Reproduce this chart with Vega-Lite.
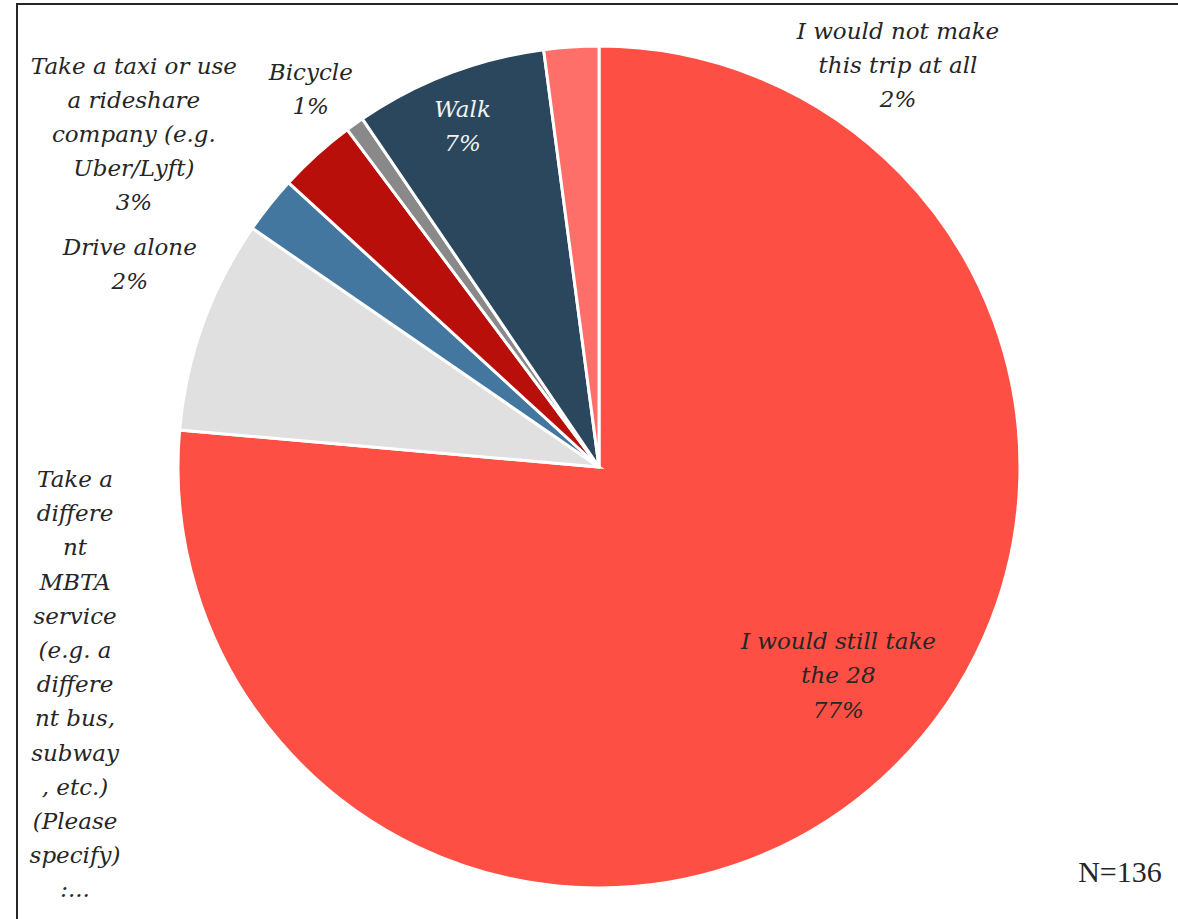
{
  "$schema": "https://vega.github.io/schema/vega-lite/v6.json",
  "width": 1164,
  "height": 926,
  "padding": {"left": 17, "top": 4, "right": 0, "bottom": 0},
  "autosize": {"type": "none"},
  "background": "white",
  "config": {
    "view": {"stroke": null},
    "text": {"font": "DejaVu Serif", "fontSize": 23, "fontStyle": "italic", "lineHeight": 34.2, "lineBreak": "\n", "color": "#262626"}
  },
  "data": {
    "values": [
      {"key": "still", "order": 1, "value": 76.4, "label": "I would still take\nthe 28\n77%"},
      {"key": "mbta", "order": 2, "value": 8.2, "label": "Take a\ndiffere\nnt\nMBTA\nservice\n(e.g. a\ndiffere\nnt bus,\nsubway\n, etc.)\n(Please\nspecify)\n:..."},
      {"key": "drive", "order": 3, "value": 2.2, "label": "Drive alone\n2%"},
      {"key": "taxi", "order": 4, "value": 3.0, "label": "Take a taxi or use\na rideshare\ncompany (e.g.\nUber/Lyft)\n3%"},
      {"key": "bike", "order": 5, "value": 0.7, "label": "Bicycle\n1%"},
      {"key": "walk", "order": 6, "value": 7.4, "label": "Walk\n7%"},
      {"key": "notmake", "order": 7, "value": 2.1, "label": "I would not make\nthis trip at all\n2%"}
    ]
  },
  "layer": [
    {
      "data": {"values": [{"frame": 1}]},
      "mark": {"type": "rect", "fill": null, "stroke": "#262626", "strokeWidth": 2},
      "encoding": {}
    },
    {
      "mark": {"type": "arc", "outerRadius": 421, "stroke": "white", "strokeWidth": 3},
      "encoding": {
        "theta": {"field": "value", "type": "quantitative", "stack": true},
        "order": {"field": "order", "type": "quantitative"},
        "color": {
          "field": "key", "type": "nominal", "legend": null,
          "scale": {
            "domain": ["still", "mbta", "drive", "taxi", "bike", "walk", "notmake"],
            "range": ["#FE4F44", "#E0E0E0", "#44779F", "#B80F0A", "#898989", "#2A475E", "#FF6F69"]
          }
        }
      }
    },
    {
      "mark": {"type": "text", "radius": 317.5, "dx": 25, "dy": -59},
      "encoding": {
        "theta": {"field": "value", "type": "quantitative", "stack": true},
        "order": {"field": "order", "type": "quantitative"},
        "detail": {"field": "key", "type": "nominal"},
        "text": {"condition": {"test": "datum.key === 'still'", "field": "label", "type": "nominal"}, "value": ""}
      }
    },
    {
      "mark": {"type": "text", "radius": 366, "dx": -6, "dy": -15, "color": "#F2F2F2"},
      "encoding": {
        "theta": {"field": "value", "type": "quantitative", "stack": true},
        "order": {"field": "order", "type": "quantitative"},
        "detail": {"field": "key", "type": "nominal"},
        "text": {"condition": {"test": "datum.key === 'walk'", "field": "label", "type": "nominal"}, "value": ""}
      }
    },
    {
      "mark": {"type": "text", "radius": 440, "dx": 328, "dy": 4},
      "encoding": {
        "theta": {"field": "value", "type": "quantitative", "stack": true},
        "order": {"field": "order", "type": "quantitative"},
        "detail": {"field": "key", "type": "nominal"},
        "text": {"condition": {"test": "datum.key === 'notmake'", "field": "label", "type": "nominal"}, "value": ""}
      }
    },
    {
      "mark": {"type": "text", "radius": 440, "dx": -33, "dy": -36},
      "encoding": {
        "theta": {"field": "value", "type": "quantitative", "stack": true},
        "order": {"field": "order", "type": "quantitative"},
        "detail": {"field": "key", "type": "nominal"},
        "text": {"condition": {"test": "datum.key === 'bike'", "field": "label", "type": "nominal"}, "value": ""}
      }
    },
    {
      "mark": {"type": "text", "radius": 440, "dx": -170, "dy": -74},
      "encoding": {
        "theta": {"field": "value", "type": "quantitative", "stack": true},
        "order": {"field": "order", "type": "quantitative"},
        "detail": {"field": "key", "type": "nominal"},
        "text": {"condition": {"test": "datum.key === 'taxi'", "field": "label", "type": "nominal"}, "value": ""}
      }
    },
    {
      "mark": {"type": "text", "radius": 440, "dx": -125, "dy": 55},
      "encoding": {
        "theta": {"field": "value", "type": "quantitative", "stack": true},
        "order": {"field": "order", "type": "quantitative"},
        "detail": {"field": "key", "type": "nominal"},
        "text": {"condition": {"test": "datum.key === 'drive'", "field": "label", "type": "nominal"}, "value": ""}
      }
    },
    {
      "mark": {"type": "text", "radius": 440, "dx": -110, "dy": 162},
      "encoding": {
        "theta": {"field": "value", "type": "quantitative", "stack": true},
        "order": {"field": "order", "type": "quantitative"},
        "detail": {"field": "key", "type": "nominal"},
        "text": {"condition": {"test": "datum.key === 'mbta'", "field": "label", "type": "nominal"}, "value": ""}
      }
    },
    {
      "data": {"values": [{"note": "N=136"}]},
      "mark": {"type": "text", "font": "Liberation Serif", "fontStyle": "normal", "fontSize": 30, "dx": 521, "dy": 406},
      "encoding": {"text": {"field": "note", "type": "nominal"}}
    }
  ]
}
